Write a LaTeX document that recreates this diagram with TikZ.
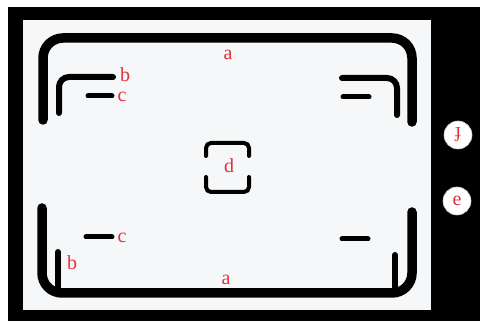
\documentclass[tikz,border=0pt]{standalone}
\usepackage{fontspec}
\setmainfont{Liberation Serif}
\definecolor{lblred}{HTML}{E2303C}
\definecolor{screen}{HTML}{F5F7F8}
\begin{document}
\begin{tikzpicture}[x=1pt,y=-1pt,
  lbl/.style={text=lblred,font=\fontsize{20}{20}\selectfont,inner sep=0pt},
  frame/.style={line width=9.5pt,line cap=round,rounded corners=20pt},
  innerb/.style={line width=6pt,line cap=round,rounded corners=10pt},
  tickline/.style={line width=5pt,line cap=round},
  focus/.style={line width=4pt,line cap=round,rounded corners=5pt},
  knob/.style={circle,fill=white,draw=gray!40,line width=0.6pt,minimum size=28pt,inner sep=0pt,text=lblred,font=\fontsize{20}{20}\selectfont}]
\useasboundingbox (0,0) rectangle (480,323);
\fill[white] (0,0) rectangle (480,323);
\fill[black] (8,7) rectangle (480,321);
\fill[screen] (23,20) rectangle (431,310);
% outer frame a
\draw[frame] (43,120) -- (43,38) -- (412,38) -- (412,122);
\draw[frame] (42,208) -- (42,293) -- (412,293) -- (412,212);
% inner frame b
\draw[innerb] (59,113) -- (59,77) -- (113,77);
\draw[innerb] (342,78) -- (397,78) -- (397,115);
\draw[line width=6pt,line cap=round] (58,252) -- (58,290);
\draw[line width=6pt,line cap=round] (395,255) -- (395,290);
% dashes c
\draw[tickline] (88,96) -- (112,96);
\draw[tickline] (343,97) -- (369,97);
\draw[tickline] (86,237) -- (112,237);
\draw[tickline] (342,239) -- (368,239);
% focus d
\draw[focus] (206,156) -- (206,143) -- (249,143) -- (249,156);
\draw[focus] (206,177) -- (206,192) -- (249,192) -- (249,177);
% labels
\node[lbl] (la1) at (228,55) {a};
\node[lbl] (la2) at (226,280) {a};
\node[lbl] (lb1) at (125,75) {b};
\node[lbl] (lc1) at (122,97) {c};
\node[lbl] (lc2) at (122,238) {c};
\node[lbl] (lb2) at (72,263) {b};
\node[lbl] (ld) at (229,166) {d};
% knobs
\node[knob] (kf) at (458,135) {\rotatebox{180}{f}};
\node[knob] (ke) at (457,201) {e};
\end{tikzpicture}
\end{document}
